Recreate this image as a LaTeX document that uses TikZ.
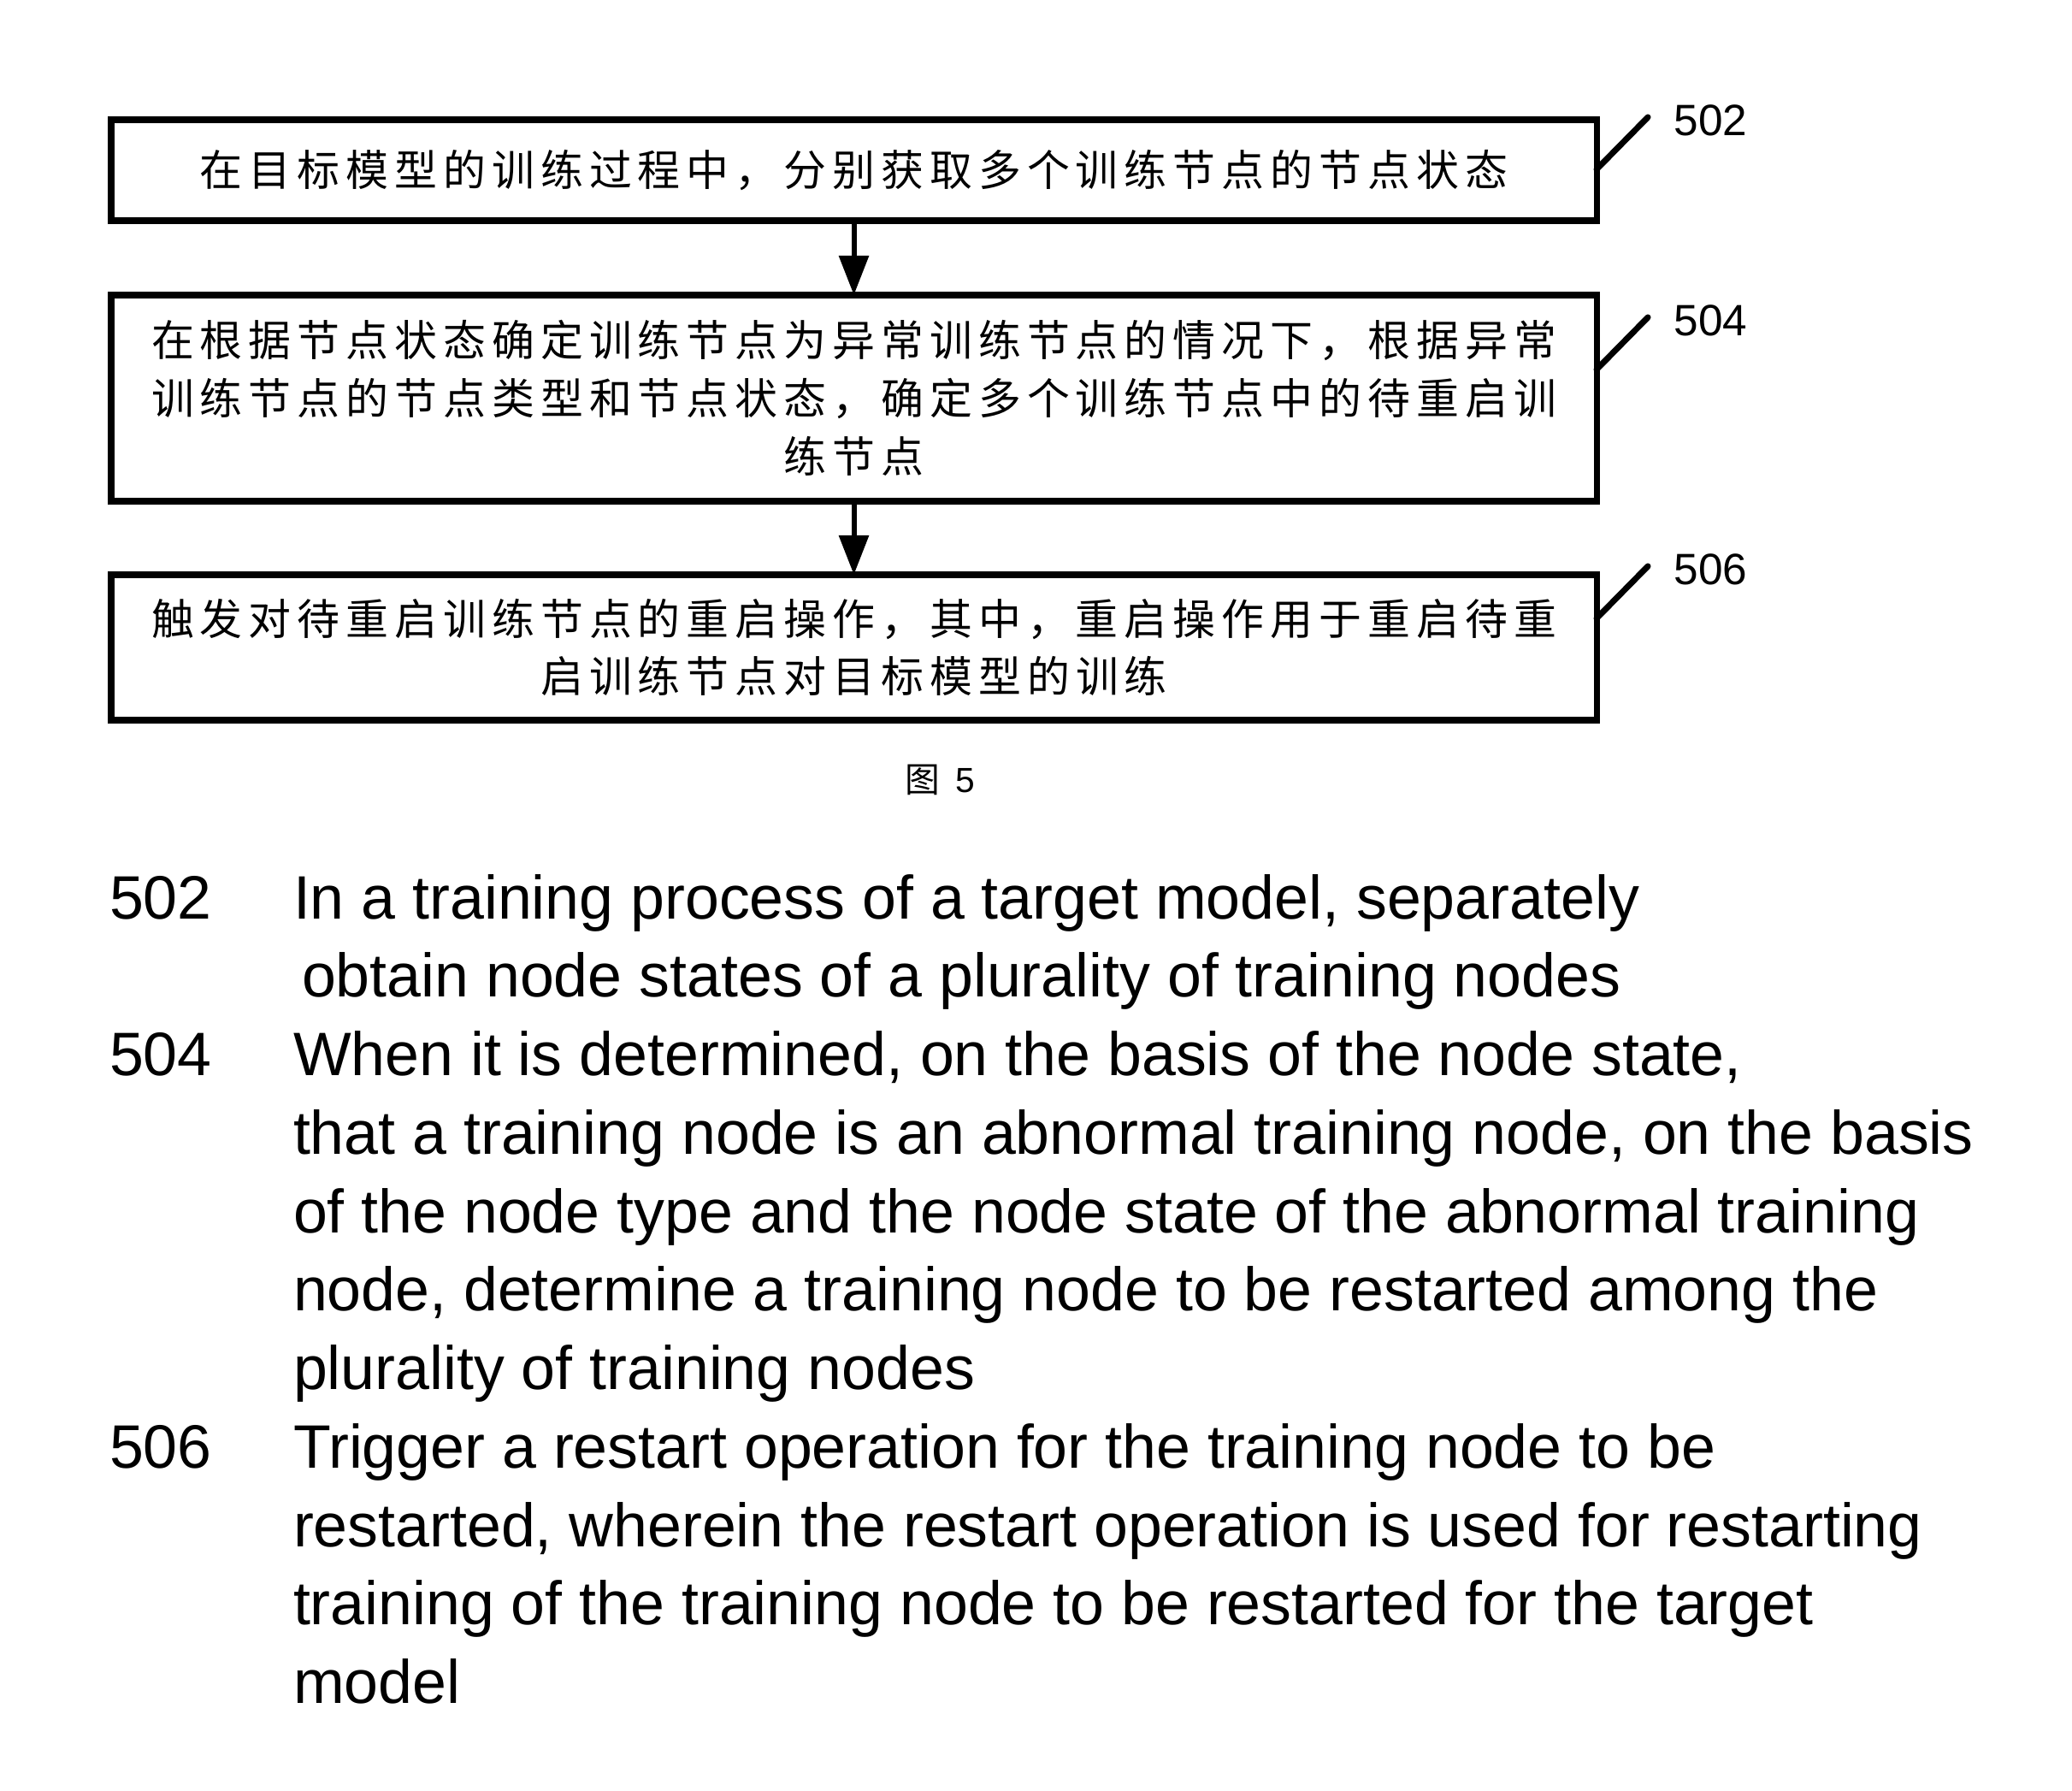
\documentclass[tikz,border=0pt]{standalone}
\usepackage{fontspec}
\setmainfont{Liberation Sans}
\newfontfamily\cjk[LetterSpace=14]{Noto Sans CJK SC}
\usetikzlibrary{positioning}
\usetikzlibrary{arrows.meta}
\usetikzlibrary{calc}

\tikzset{
  stepBox/.style={draw, line width=2pt, minimum width=17.37cm, inner sep=0pt, outer sep=0pt, align=center,
    font=\cjk\fontsize{14.2pt}{19.3pt}\selectfont},
  flow/.style={line width=1.7pt, -{Triangle[length=0.46cm, width=0.34cm]}},
  leader/.style={line width=2pt, line cap=round},
  stepNum/.style={font=\fontsize{14.6pt}{17pt}\selectfont, inner sep=0pt},
  legend/.style={font=\fontsize{20.4pt}{26.1pt}\selectfont, align=left, inner sep=0pt, outer sep=0pt, anchor=north west},
}

\begin{document}
\begin{tikzpicture}
  \path[fill=white, use as bounding box] (0,0) rectangle (24.23,-20.94);

  \node[stepBox, minimum height=1.18cm] (step-502) at (9.985,-1.99)
    {在目标模型的训练过程中，分别获取多个训练节点的节点状态};
  \node[stepBox, minimum height=2.41cm, below=0.87cm of step-502] (step-504)
    {在根据节点状态确定训练节点为异常训练节点的情况下，根据异常\\
     训练节点的节点类型和节点状态，确定多个训练节点中的待重启训\\
     练节点};
  \node[stepBox, minimum height=1.70cm, below=0.86cm of step-504] (step-506)
    {触发对待重启训练节点的重启操作，其中，重启操作用于重启待重\\
     启训练节点对目标模型的训练};

  \draw[flow] (step-502) -- (step-504);
  \draw[flow] (step-504) -- (step-506);

  \foreach \s/\d in {502/0.58, 504/0.87, 506/0.51} {
    \draw[leader] ($(step-\s.north east)+(0,-\d)$) -- ++(0.6,0.61) coordinate (tip-\s);
    \node[stepNum, right=0.3cm of tip-\s, yshift=-0.04cm] (num-\s) {\s};
  }

  \node[font=\fontsize{11.6pt}{13pt}\selectfont] (fig-cap) at (10.99,-9.12) {{\cjk 图}\hspace{0.18cm}5};

  \node[legend] (en-502) at (1.28,-10.10) {\strut 502};
  \node[legend] (desc-502) at (3.43,-10.10)
    {\strut In a training process of a target model, separately\\
     \hspace*{0.1cm}\strut obtain node states of a plurality of training nodes};

  \node[legend] (desc-504) at (desc-502.south west)
    {\strut When it is determined, on the basis of the node state,\\
     \strut that a training node is an abnormal training node, on the basis\\
     \strut of the node type and the node state of the abnormal training\\
     \strut node, determine a training node to be restarted among the\\
     \strut plurality of training nodes};
  \node[legend] (en-504) at (desc-504.north west -| en-502.west) {\strut 504};

  \node[legend] (desc-506) at (desc-504.south west)
    {\strut Trigger a restart operation for the training node to be\\
     \strut restarted, wherein the restart operation is used for restarting\\
     \strut training of the training node to be restarted for the target\\
     \strut model};
  \node[legend] (en-506) at (desc-506.north west -| en-502.west) {\strut 506};
\end{tikzpicture}
\end{document}
